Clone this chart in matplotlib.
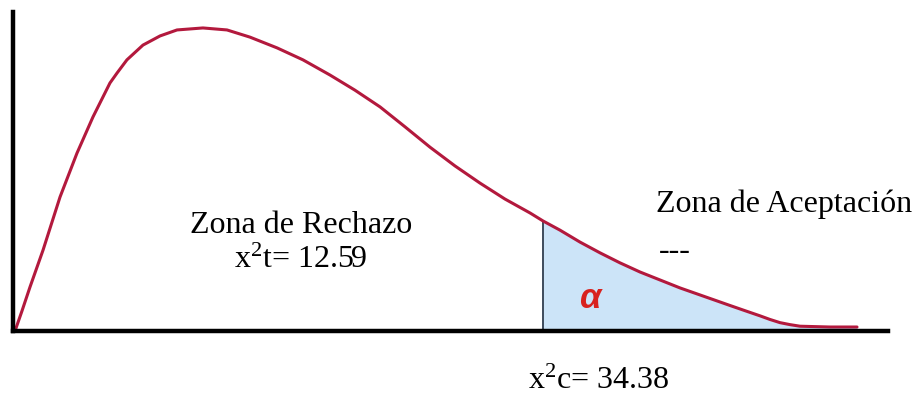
import matplotlib
matplotlib.use("Agg")
import matplotlib.pyplot as plt
import numpy as np

plt.rcParams["font.family"] = ["Liberation Serif", "DejaVu Serif"]
plt.rcParams["mathtext.fontset"] = "custom"
plt.rcParams["mathtext.rm"] = "Liberation Serif"
plt.rcParams["mathtext.it"] = "Liberation Serif:italic"

# curve (x in chi-square units, y density)
curve_x = [0.13, 0.58, 1.10, 1.95, 3.05, 4.15, 5.19, 6.29, 6.75, 7.39,
           8.43, 9.54, 10.64, 12.32, 13.88, 15.37, 17.13, 18.81, 20.56, 22.18,
           23.81, 25.43, 27.05, 28.67, 30.29, 31.91, 33.54, 34.38, 35.48, 36.78,
           38.08, 39.37, 40.67, 41.97, 43.27, 44.89, 46.51, 47.48, 48.46, 49.10,
           49.75, 50.40, 51.05, 53.00, 54.75]
curve_y = [0.0000, 0.0050, 0.0110, 0.0203, 0.0336, 0.0446, 0.0537, 0.0622, 0.0647, 0.0680,
           0.0717, 0.0740, 0.0755, 0.0760, 0.0755, 0.0737, 0.0710, 0.0680, 0.0642, 0.0604,
           0.0562, 0.0512, 0.0461, 0.0414, 0.0371, 0.0331, 0.0296, 0.0276, 0.0253, 0.0223,
           0.0196, 0.0171, 0.0148, 0.0128, 0.0108, 0.0086, 0.0064, 0.0051, 0.0038, 0.0029,
           0.0021, 0.0016, 0.0012, 0.0010, 0.0010]
x_crit = 34.38

curve_x = np.array(curve_x)
curve_y = np.array(curve_y)

W, H = 918, 398
fig = plt.figure(figsize=(W / 100, H / 100), dpi=100)
ax = fig.add_axes([13 / W, 67 / H, 875 / W, 319 / H])
ax.set_xlim(0, 56.76)
ax.set_ylim(0, 0.08)

tail = curve_x >= x_crit
ax.fill_between(curve_x[tail], 0, curve_y[tail], color="#cce4f8", lw=0, zorder=1)
ax.plot([x_crit, x_crit], [0, curve_y[curve_x == x_crit][0]], color="#3d4b5c", lw=1.4, zorder=2)
ax.plot(curve_x, curve_y, color="#b3193d", lw=2.2, zorder=3,
        solid_capstyle="round", solid_joinstyle="round")

for s in ["top", "right"]:
    ax.spines[s].set_visible(False)
for s in ["left", "bottom"]:
    ax.spines[s].set_linewidth(3.2)
    ax.spines[s].set_color("black")
    ax.spines[s].set_zorder(4)
ax.set_xticks([])
ax.set_yticks([])
ax.patch.set_visible(False)


def ftext(px, py, s, **kw):
    fig.text(px / W, 1 - py / H, s, **kw)


ftext(301, 233, "Zona de Rechazo", fontsize=23, ha="center", va="baseline")
ftext(301, 268, "x$^{2}$t= 12.59", fontsize=23, ha="center", va="baseline")
ftext(656, 212, "Zona de Aceptación", fontsize=23, ha="left", va="baseline")
ftext(659, 259, "---", fontsize=23, ha="left", va="baseline")
ftext(590, 298, "α", fontsize=25, ha="center", va="center", color="#d8221f",
      family="Liberation Sans", style="italic", weight="bold")
ftext(528, 389, "x$^{2}$c= 34.38", fontsize=23, ha="left", va="baseline")

fig.savefig("out.png", dpi=100)
